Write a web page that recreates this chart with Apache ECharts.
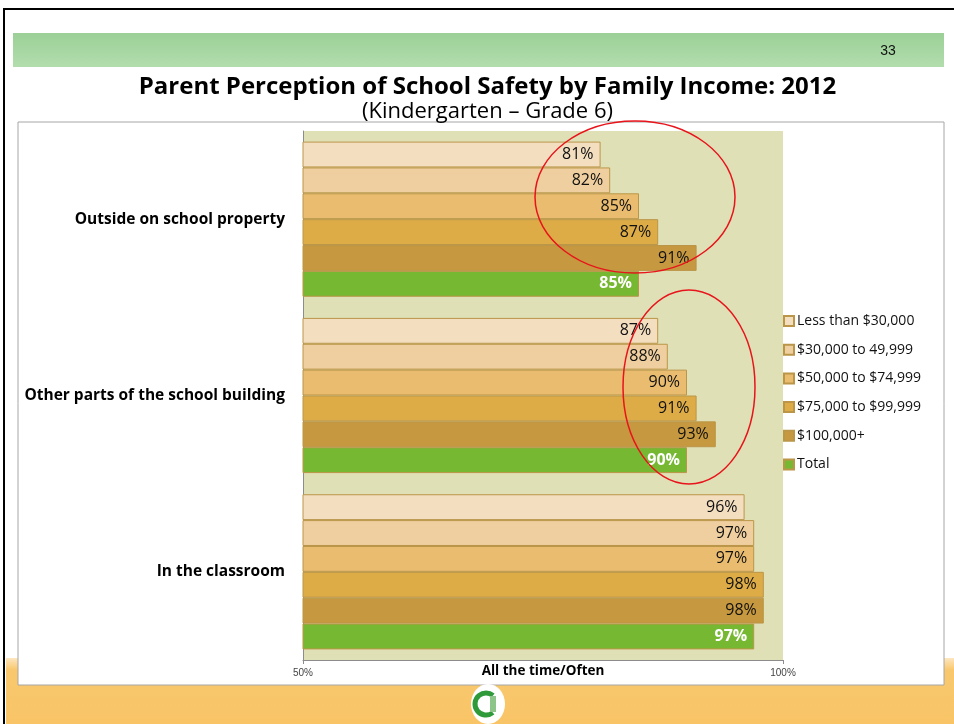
<!DOCTYPE html>
<html>
<head>
<meta charset="utf-8">
<script src="https://cdn.jsdelivr.net/npm/echarts@6/dist/echarts.min.js"></script>
<style>
  html, body { margin: 0; padding: 0; background: #fff; }
  #main { width: 954px; height: 724px; }
</style>
</head>
<body>
<div id="main"></div>
<script>
// categories (top to bottom)
var categories = ['Outside on school property', 'Other parts of the school building', 'In the classroom'];
var seriesNames = ['Less than $30,000', '$30,000 to 49,999', '$50,000 to $74,999', '$75,000 to $99,999', '$100,000+', 'Total'];
var lessThan30k = [81, 87, 96];
var from30kTo50k = [82, 88, 97];
var from50kTo75k = [85, 90, 97];
var from75kTo100k = [87, 91, 98];
var over100k = [91, 93, 98];
var total = [85, 90, 97];
var xTicks = [50, 100];

var values = [lessThan30k, from30kTo50k, from50kTo75k, from75kTo100k, over100k, total];
var colors = ['#f4dec0', '#efcf9f', '#e9bc70', '#ddac47', '#c6983f', '#77b833'];
var font = '"Open Sans", sans-serif';

var myChart = echarts.init(document.getElementById('main'));

var series = values.map(function (v, i) {
  var isTotal = i === values.length - 1;
  return {
    name: seriesNames[i],
    type: 'bar',
    data: v,
    barGap: '0%',
    barCategoryGap: '12%',
    itemStyle: { color: colors[i], borderColor: '#bb9648', borderWidth: 1 },
    label: {
      show: true,
      position: 'insideRight',
      distance: 7,
      formatter: '{c}%',
      fontFamily: font,
      fontSize: 16,
      fontWeight: isTotal ? 'bold' : 'normal',
      color: isTotal ? '#fff' : '#111'
    },
    silent: true
  };
});

myChart.setOption({
  animation: false,
  textStyle: { fontFamily: font },
  graphic: [
    // slide frame
    { type: 'rect', z: -10, shape: { x: 4, y: 9, width: 960, height: 730 }, style: { fill: '#fff', stroke: '#000', lineWidth: 2 } },
    // green header band
    { type: 'rect', z: -9, shape: { x: 13, y: 33, width: 931, height: 34 },
      style: { fill: new echarts.graphic.LinearGradient(0, 0, 0, 1, [{ offset: 0, color: '#9bd097' }, { offset: 1, color: '#b2ddad' }]) } },
    { type: 'text', z: -8, style: { x: 888, y: 51, text: '33', fontSize: 14, fontFamily: '"Liberation Sans", Arial, sans-serif', fill: '#111', align: 'center', verticalAlign: 'middle' } },
    // orange footer band
    { type: 'rect', z: -9, shape: { x: 6, y: 658, width: 948, height: 66 },
      style: { fill: new echarts.graphic.LinearGradient(0, 0, 0, 1, [{ offset: 0, color: '#fde6c0' }, { offset: 0.18, color: '#f9c86e' }, { offset: 1, color: '#f8c466' }]) } },
    // chart box
    { type: 'rect', z: -7, shape: { x: 18, y: 122, width: 926, height: 563 }, style: { fill: '#fff', stroke: '#a6a6a6', lineWidth: 1 } },
    // plot background
    { type: 'rect', z: -6, shape: { x: 303, y: 131, width: 480, height: 529 }, style: { fill: '#dfe0b6' } },
    // logo
    { type: 'ellipse', z: 5, shape: { cx: 488, cy: 704, rx: 17, ry: 20 }, style: { fill: '#fff' } },
    { type: 'arc', z: 6, shape: { cx: 486, cy: 704, r: 11, startAngle: 0.9, endAngle: 5.4 }, style: { stroke: '#2f9a3a', lineWidth: 5, fill: null } },
    { type: 'rect', z: 6, shape: { x: 490, y: 696, width: 6, height: 16 }, style: { fill: '#8cc48a' } },
    // red ellipses
    { type: 'ellipse', z: 20, shape: { cx: 635, cy: 197, rx: 100, ry: 76 }, style: { fill: null, stroke: '#e8141b', lineWidth: 1.5 } },
    { type: 'ellipse', z: 20, shape: { cx: 689, cy: 387, rx: 66, ry: 97 }, style: { fill: null, stroke: '#e8141b', lineWidth: 1.5 } }
  ],
  title: {
    text: 'Parent Perception of School Safety by Family Income: 2012',
    subtext: '(Kindergarten \u2013 Grade 6)',
    left: 482.5,
    top: 68,
    textAlign: 'center',
    itemGap: 0,
    textStyle: { fontFamily: font, fontSize: 24, fontWeight: 'bold', color: '#000', lineHeight: 28 },
    subtextStyle: { fontFamily: font, fontSize: 22, color: '#000', lineHeight: 22 }
  },
  legend: {
    orient: 'vertical',
    left: 778,
    top: 306,
    itemWidth: 10,
    itemHeight: 10,
    itemGap: 8.7,
    icon: 'rect',
    textStyle: { fontFamily: font, fontSize: 14, color: '#111', lineHeight: 20, padding: [0, 0, 0, -2] },
    selectedMode: false
  },
  grid: { left: 303, top: 131, width: 480, height: 529, containLabel: false },
  xAxis: {
    type: 'value',
    min: xTicks[0],
    max: xTicks[1],
    interval: xTicks[1] - xTicks[0],
    name: 'All the time/Often',
    nameLocation: 'middle',
    nameGap: 4,
    nameMoveOverlap: false,
    nameTextStyle: { fontFamily: font, fontSize: 13.5, fontWeight: 'bold', color: '#000' },
    axisLine: { show: true, lineStyle: { color: '#8c8c8c' } },
    axisTick: { show: true, length: 4, lineStyle: { color: '#8c8c8c' } },
    axisLabel: { formatter: '{value}%', fontFamily: '"Liberation Sans", Arial, sans-serif', fontSize: 10, color: '#444', margin: 8 },
    splitLine: { show: false }
  },
  yAxis: {
    type: 'category',
    data: categories,
    inverse: true,
    axisLine: { show: true, lineStyle: { color: '#8c8c8c' } },
    axisTick: { show: false },
    axisLabel: { fontFamily: font, fontSize: 15.5, fontWeight: 'bold', color: '#000', margin: 18 }
  },
  color: colors,
  series: series
});
</script>
</body>
</html>
